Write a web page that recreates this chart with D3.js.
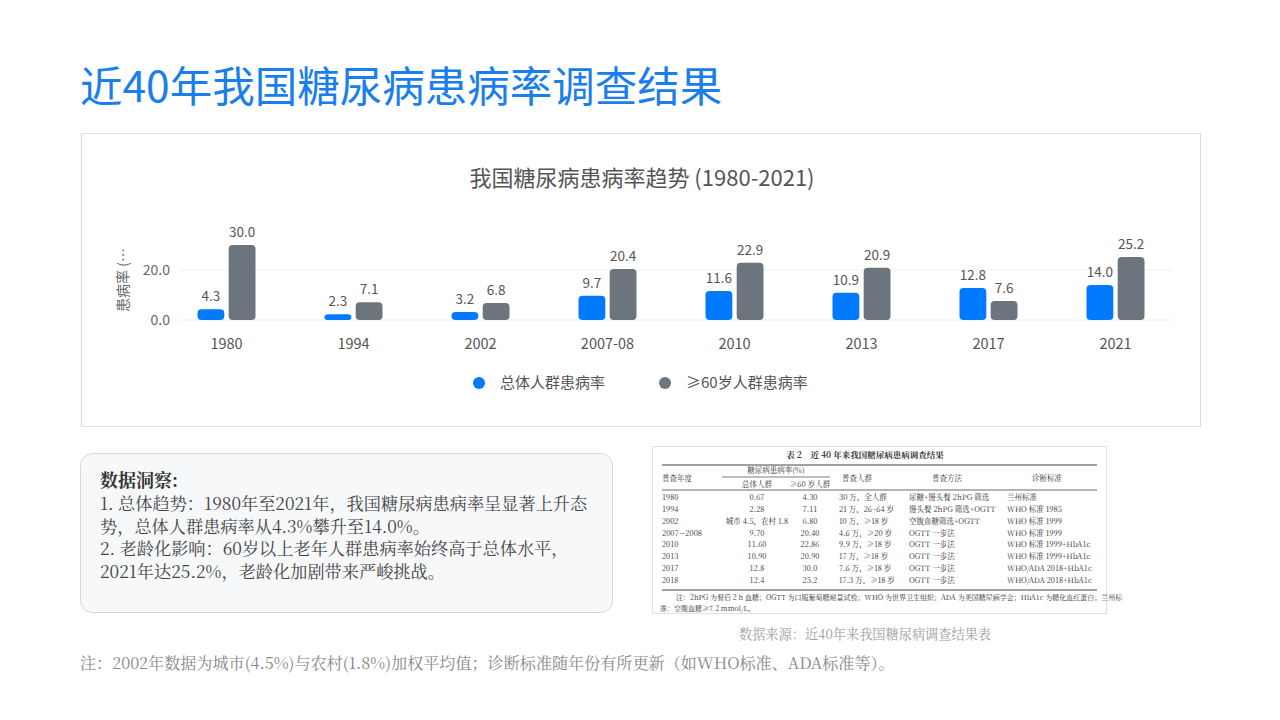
<!DOCTYPE html>
<html>
<head>
<meta charset="utf-8">
<script src="https://cdn.jsdelivr.net/npm/d3@7"></script>
<style>
  body { margin: 0; background: #fff; }
  svg { display: block; }
</style>
</head>
<body>
<script>
// chart data
const categories = ['1980', '1994', '2002', '2007-08', '2010', '2013', '2017', '2021'];
const overallRate = [4.3, 2.3, 3.2, 9.7, 11.6, 10.9, 12.8, 14.0];
const elderRate = [30.0, 7.1, 6.8, 20.4, 22.9, 20.9, 7.6, 25.2];
const seriesNames = ['总体人群患病率', '≥60岁人群患病率'];
const seriesColors = ['#007bff', '#6c757d'];
const yTicks = [0, 20];

// table (source picture) data
const tableYears = ['1980', '1994', '2002', '2007—2008', '2010', '2013', '2017', '2018'];
const tableOverall = ['0.67', '2.28', '城市 4.5，农村 1.8', '9.70', '11.60', '10.90', '12.8', '12.4'];
const tableElder = ['4.30', '7.11', '6.80', '20.40', '22.86', '20.90', '30.0', '25.2'];
const tablePop = ['30 万，全人群', '21 万，26~64 岁', '10 万，≥18 岁', '4.6 万，≥20 岁', '9.9 万，≥18 岁', '17 万，≥18 岁', '7.6 万，≥18 岁', '17.3 万，≥18 岁'];
const tableMethod = ['尿糖+馒头餐 2hPG 筛选', '馒头餐 2hPG 筛选+OGTT', '空腹血糖筛选+OGTT', 'OGTT 一步法', 'OGTT 一步法', 'OGTT 一步法', 'OGTT 一步法', 'OGTT 一步法'];
const tableCriteria = ['兰州标准', 'WHO 标准 1985', 'WHO 标准 1999', 'WHO 标准 1999', 'WHO 标准 1999+HbA1c', 'WHO 标准 1999+HbA1c', 'WHO/ADA 2018+HbA1c', 'WHO/ADA 2018+HbA1c'];

const insightLines = [
  '1. 总体趋势：1980年至2021年，我国糖尿病患病率呈显著上升态',
  '势，总体人群患病率从4.3%攀升至14.0%。',
  '2. 老龄化影响：60岁以上老年人群患病率始终高于总体水平，',
  '2021年达25.2%，老龄化加剧带来严峻挑战。'
];

const sans = '"Noto Sans CJK SC", "Noto Sans", sans-serif';
const serif = '"Noto Serif CJK SC", "Liberation Serif", "DejaVu Serif", "Noto Sans CJK SC", serif';

const svg = d3.select('body')
  .append('svg')
  .attr('width', 1280)
  .attr('height', 720);

// page title
svg.append('text')
  .attr('x', 80)
  .attr('y', 102)
  .style('font-family', sans)
  .style('font-size', '42.5px')
  .style('fill', '#1a7fec')
  .text('近40年我国糖尿病患病率调查结果');

// chart card
svg.append('rect')
  .attr('x', 81.5).attr('y', 133.5)
  .attr('width', 1119).attr('height', 293)
  .attr('fill', '#fff')
  .attr('stroke', '#dedede');

svg.append('text')
  .attr('x', 642)
  .attr('y', 186)
  .attr('text-anchor', 'middle')
  .style('font-family', sans)
  .style('font-size', '22px')
  .style('fill', '#555')
  .text('我国糖尿病患病率趋势 (1980-2021)');

// scales
const xScale = d3.scaleBand()
  .domain(categories)
  .range([163, 1179]);

const xInner = d3.scaleBand()
  .domain(seriesNames)
  .range([0, 58])
  .paddingInner(0.14);

const yScale = d3.scaleLinear()
  .domain([0, 30])
  .range([320, 245]);

// grid lines
svg.append('g')
  .selectAll('line')
  .data(yTicks)
  .join('line')
  .attr('x1', 178).attr('x2', 1172)
  .attr('y1', d => yScale(d)).attr('y2', d => yScale(d))
  .attr('stroke', '#f0f0f0');

// y axis
const yAxis = d3.axisLeft(yScale).tickValues(yTicks).tickFormat(d3.format('.1f')).tickSize(0).tickPadding(0);
svg.append('g')
  .attr('transform', 'translate(170,0)')
  .call(yAxis)
  .call(g => g.select('.domain').remove())
  .selectAll('text')
  .style('font-family', sans)
  .style('font-size', '14px')
  .style('fill', '#666');

svg.append('text')
  .attr('transform', 'translate(128,280) rotate(-90)')
  .attr('text-anchor', 'middle')
  .style('font-family', sans)
  .style('font-size', '14px')
  .style('fill', '#666')
  .text('患病率 (…');

// x axis
const xAxis = d3.axisBottom(xScale).tickSize(0).tickPadding(0);
svg.append('g')
  .attr('transform', 'translate(0,337)')
  .call(xAxis)
  .call(g => g.select('.domain').remove())
  .selectAll('text')
  .attr('dy', '0.8em')
  .style('font-family', sans)
  .style('font-size', '14.5px')
  .style('fill', '#555');

// bars
const rows = categories.map((c, i) => ({
  cat: c,
  vals: [{ s: seriesNames[0], v: overallRate[i], color: seriesColors[0] },
         { s: seriesNames[1], v: elderRate[i], color: seriesColors[1] }]
}));

const groups = svg.append('g')
  .selectAll('g')
  .data(rows)
  .join('g')
  .attr('transform', d => `translate(${xScale(d.cat) + (xScale.bandwidth() - 58) / 2},0)`);

groups.selectAll('rect')
  .data(d => d.vals)
  .join('rect')
  .attr('x', d => xInner(d.s))
  .attr('y', d => yScale(d.v))
  .attr('width', xInner.bandwidth())
  .attr('height', d => yScale(0) - yScale(d.v))
  .attr('rx', 4)
  .attr('fill', d => d.color);

groups.selectAll('text')
  .data(d => d.vals)
  .join('text')
  .attr('x', d => xInner(d.s) + xInner.bandwidth() / 2)
  .attr('y', d => yScale(d.v) - 8)
  .attr('text-anchor', 'middle')
  .style('font-family', sans)
  .style('font-size', '13.5px')
  .style('fill', '#555')
  .text(d => d.v.toFixed(1));

// legend
const legendX = [479, 665];
const legend = svg.append('g')
  .selectAll('g')
  .data(seriesNames)
  .join('g')
  .attr('transform', (d, i) => `translate(${legendX[i]},383)`);
legend.append('circle').attr('r', 6).attr('fill', (d, i) => seriesColors[i]);
legend.append('text')
  .attr('x', 21).attr('y', 5)
  .style('font-family', sans)
  .style('font-size', '15px')
  .style('fill', '#555')
  .text(d => d);

// insight box
svg.append('rect')
  .attr('x', 80.5).attr('y', 453.5)
  .attr('width', 532).attr('height', 159)
  .attr('rx', 12)
  .attr('fill', '#f6f8fa')
  .attr('stroke', '#d3d8df');

svg.append('text')
  .attr('x', 100).attr('y', 487)
  .style('font-family', serif)
  .style('font-size', '18px')
  .style('font-weight', 'bold')
  .style('fill', '#333')
  .text('数据洞察:');

svg.append('g')
  .selectAll('text')
  .data(insightLines)
  .join('text')
  .attr('x', 100)
  .attr('y', (d, i) => 510 + i * 22.5)
  .style('font-family', serif)
  .style('font-size', '17.2px')
  .style('fill', '#444')
  .text(d => d);

// source table picture
const tbl = svg.append('g').style('font-family', serif).style('fill', '#333');
tbl.append('rect')
  .attr('x', 652.5).attr('y', 446.5)
  .attr('width', 454).attr('height', 167)
  .attr('fill', '#fff')
  .attr('stroke', '#e2e2e2');

tbl.append('text')
  .attr('x', 865).attr('y', 458)
  .attr('text-anchor', 'middle')
  .style('font-size', '8.5px')
  .style('font-weight', 'bold')
  .text('表 2　近 40 年来我国糖尿病患病调查结果');

[465, 490, 590].forEach((y, i) => {
  tbl.append('line')
    .attr('x1', 662).attr('x2', 1097)
    .attr('y1', y).attr('y2', y)
    .attr('stroke', '#444')
    .attr('stroke-width', i == 1 ? 0.8 : 1);
});
tbl.append('line')
  .attr('x1', 722).attr('x2', 830)
  .attr('y1', 477).attr('y2', 477)
  .attr('stroke', '#444').attr('stroke-width', 0.7);

const headers = [
  { t: '普查年度', x: 662, y: 481, a: 'start' },
  { t: '糖尿病患病率(%)', x: 776, y: 473, a: 'middle' },
  { t: '总体人群', x: 757, y: 487, a: 'middle' },
  { t: '≥60 岁人群', x: 810, y: 487, a: 'middle' },
  { t: '普查人群', x: 857, y: 481, a: 'middle' },
  { t: '普查方法', x: 947, y: 481, a: 'middle' },
  { t: '诊断标准', x: 1047, y: 481, a: 'middle' }
];
tbl.append('g')
  .selectAll('text')
  .data(headers)
  .join('text')
  .attr('x', d => d.x).attr('y', d => d.y)
  .attr('text-anchor', d => d.a)
  .style('font-size', '7.5px')
  .text(d => d.t);

const tableCols = [
  { vals: tableYears, x: 662, a: 'start' },
  { vals: tableOverall, x: 757, a: 'middle' },
  { vals: tableElder, x: 810, a: 'middle' },
  { vals: tablePop, x: 839, a: 'start' },
  { vals: tableMethod, x: 909, a: 'start' },
  { vals: tableCriteria, x: 1007, a: 'start' }
];
const rowY = d3.scalePoint().domain(tableYears).range([500, 583]);
tableCols.forEach(col => {
  tbl.append('g')
    .selectAll('text')
    .data(col.vals)
    .join('text')
    .attr('x', col.x)
    .attr('y', (d, i) => rowY(tableYears[i]))
    .attr('text-anchor', col.a)
    .style('font-size', '7.5px')
    .text(d => d);
});

tbl.append('text')
  .attr('x', 676).attr('y', 600)
  .style('font-size', '7px')
  .text('注：2hPG 为餐后 2 h 血糖；OGTT 为口服葡萄糖耐量试验；WHO 为世界卫生组织；ADA 为美国糖尿病学会；HbA1c 为糖化血红蛋白；兰州标');
tbl.append('text')
  .attr('x', 660).attr('y', 611)
  .style('font-size', '7px')
  .text('准：空腹血糖≥7.2 mmol/L。');

// source caption
svg.append('text')
  .attr('x', 865).attr('y', 639)
  .attr('text-anchor', 'middle')
  .style('font-family', serif)
  .style('font-size', '13.2px')
  .style('fill', '#a0a0a0')
  .text('数据来源：近40年来我国糖尿病调查结果表');

// footnote
svg.append('text')
  .attr('x', 80).attr('y', 669)
  .style('font-family', serif)
  .style('font-size', '16.1px')
  .style('fill', '#888')
  .text('注：2002年数据为城市(4.5%)与农村(1.8%)加权平均值；诊断标准随年份有所更新（如WHO标准、ADA标准等）。');
</script>
</body>
</html>
